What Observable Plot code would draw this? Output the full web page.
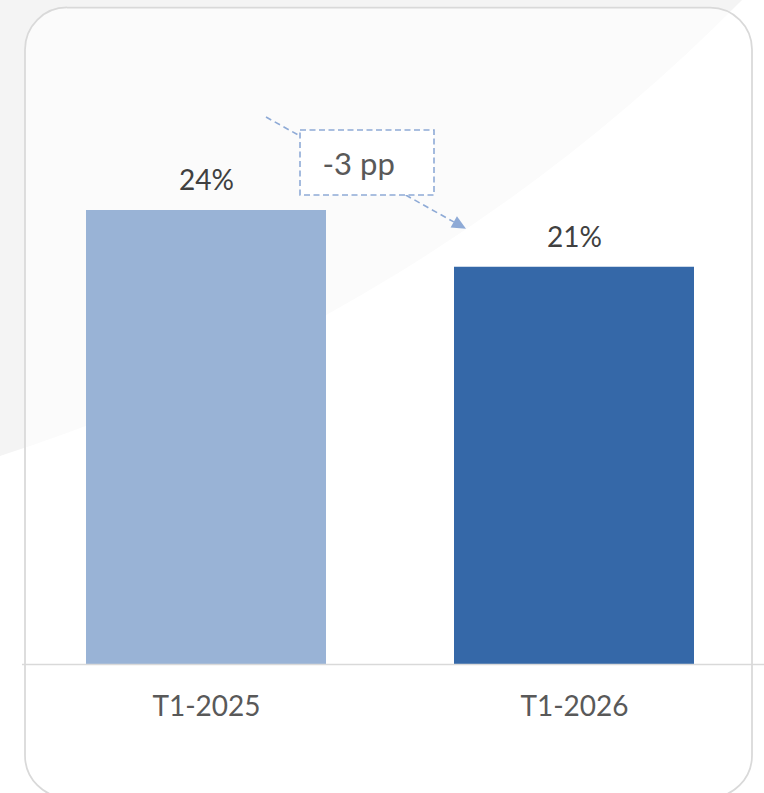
<!DOCTYPE html>
<html><head><meta charset="utf-8">
<script src="https://cdn.jsdelivr.net/npm/d3@7"></script>
<script src="https://cdn.jsdelivr.net/npm/@observablehq/plot@0.6"></script>
<style>html,body{margin:0;padding:0;background:#fff;} #chart{width:764px;height:793px;}</style>
</head><body><div id="chart"></div>
<script>
const categories = ["T1-2025", "T1-2026"];
const values = [24, 21];
const barColors = ["#99b3d6", "#3568a8"];
const valueLabels = values.map(v => v + "%");
const deltaLabel = (values[1] - values[0]) + " pp";

const data = categories.map((c, i) => ({category: c, value: values[i], label: valueLabels[i]}));
const FONT = "Lato, 'Open Sans', sans-serif";

const chart = Plot.plot({
  width: 764, height: 793,
  marginLeft: 24, marginRight: 8, marginTop: 96.5, marginBottom: 129,
  style: {background: "transparent", fontFamily: FONT},
  x: {type: "band", domain: categories, paddingInner: 0.348, paddingOuter: 0.168, axis: null},
  y: {domain: [0, 30], axis: null},
  color: {domain: categories, range: barColors},
  marks: [
    Plot.barY(data, {x: "category", y: "value", fill: "category"}),
    Plot.ruleY([0], {stroke: "#d9d9d9", strokeWidth: 1.5, insetLeft: -2, insetRight: -8}),
    Plot.text(data, {x: "category", y: "value", text: "label", dy: -20.5, lineAnchor: "bottom",
      fontSize: 28, fill: "#404040", fontFamily: FONT}),
    Plot.text(categories, {x: d => d, frameAnchor: "bottom", dy: 51, lineAnchor: "bottom",
      fontSize: 28, fill: "#595959", fontFamily: FONT})
  ]
});

const svg = d3.select(chart);
// background decoration
const bg = svg.insert("g", ":first-child");
bg.append("path").attr("d", "M742,0A1831,1831 0 0 1 0,456L0,0Z").attr("fill", "#f4f4f4");
bg.append("rect").attr("x", 25).attr("y", 7.5).attr("width", 727).attr("height", 790).attr("rx", 42)
  .attr("fill", "rgba(255,255,255,0.6)").attr("stroke", "#d9d9d9").attr("stroke-width", 1.75);

// annotation, positioned from the plot's scales
const xs = chart.scale("x"), ys = chart.scale("y");
const bw = xs.bandwidth;
const left = c => xs.apply(c), center = c => xs.apply(c) + bw / 2;
const mid = (center(categories[0]) + center(categories[1])) / 2;
const annColor = "#8eaad6";
const ann = svg.append("g");
const ax0 = center(categories[0]) + 60, ay0 = ys.apply(values[0]) - 93;
const ax1 = left(categories[1]) + 12, ay1 = ys.apply(values[1]) - 38;
const ang = Math.atan2(ay1 - ay0, ax1 - ax0), hl = 14, hw = 6.5;
const bx = ax1 - hl * Math.cos(ang), by = ay1 - hl * Math.sin(ang);
ann.append("line").attr("x1", ax0).attr("y1", ay0).attr("x2", bx).attr("y2", by)
  .attr("stroke", annColor).attr("stroke-width", 1.6).attr("stroke-dasharray", "6,4");
ann.append("path").attr("d", `M${ax1},${ay1}L${bx - hw * Math.sin(ang)},${by + hw * Math.cos(ang)}L${bx + hw * Math.sin(ang)},${by - hw * Math.cos(ang)}Z`)
  .attr("fill", annColor);
const boxX = mid - 90, boxY = ys.apply(values[0]) - 80;
ann.append("rect").attr("x", boxX).attr("y", boxY).attr("width", 134).attr("height", 65)
  .attr("fill", "#fff").attr("stroke", annColor).attr("stroke-width", 1.6).attr("stroke-dasharray", "6,3.5");
ann.append("text").attr("x", boxX + 58.7).attr("y", boxY + 45).attr("text-anchor", "middle")
  .attr("font-family", FONT).attr("font-size", 31).attr("fill", "#595959").text(deltaLabel);

document.getElementById("chart").appendChild(chart);
</script>
</body></html>
